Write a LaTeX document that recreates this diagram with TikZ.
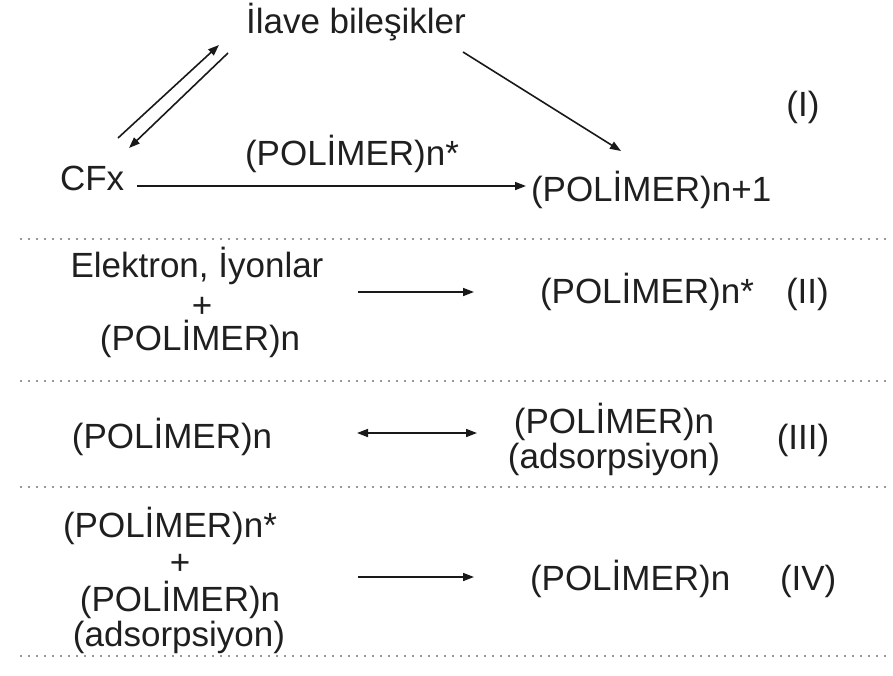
\documentclass[tikz,border=0pt]{standalone}
\usepackage{fontspec}
\setmainfont{Liberation Sans}
\usetikzlibrary{arrows.meta}
\begin{document}
\begin{tikzpicture}[x=1pt,y=-1pt,
  txt/.style={inner sep=0pt,outer sep=0pt,anchor=base,text=black!88,font=\fontsize{35}{40}\selectfont},
  txtl/.style={txt,anchor=base west},
  tip/.tip={Triangle[length=11pt,width=8pt]},
  arr/.style={line width=1.6pt,black!90,-tip},
  darr/.style={line width=1.6pt,black!90,tip-tip},
  sep/.style={gray!80,line width=1.6pt,dash pattern=on 1.6pt off 6.4pt}]
\useasboundingbox (0,0) rectangle (893,675);

% ---- reaction (I)
\node[txt]  (ilave) at (356,33)  {İlave bileşikler};
\node[txtl] (cfx)   at (60,190)  {CFx};
\node[txt]  (lab1)  at (352,165) {(POLİMER)n*};
\node[txtl] (pn1)   at (531,201) {(POLİMER)n+1};
\node[txt]  (r1)    at (803,116) {(I)};
\coordinate (c1a) at (137,186);
\coordinate (c1b) at (526,186);
\draw[arr] (c1a) -- (c1b);
\coordinate (u1) at (118,138);
\coordinate (u2) at (219,45);
\coordinate (d1) at (228,53);
\coordinate (d2) at (129,148);
\draw[arr] (u1) -- (u2);
\draw[arr] (d1) -- (d2);
\coordinate (s1) at (463,52);
\coordinate (s2) at (621,151);
\draw[arr] (s1) -- (s2);

\coordinate (l1a) at (20,239);  \coordinate (l1b) at (890,239);
\draw[sep] (l1a) -- (l1b);

% ---- reaction (II)
\node[txt]  (el)   at (197,277) {Elektron, İyonlar};
\node[txt]  (pl2)  at (202,317) {+};
\node[txt]  (p2)   at (200,350) {(POLİMER)n};
\node[txtl] (ps2)  at (540,303) {(POLİMER)n*};
\node[txtl] (r2)   at (786,303) {(II)};
\coordinate (a2a) at (358,292);
\coordinate (a2b) at (474,292);
\draw[arr] (a2a) -- (a2b);

\coordinate (l2a) at (20,381);  \coordinate (l2b) at (890,381);
\draw[sep] (l2a) -- (l2b);

% ---- reaction (III)
\node[txt]  (p3)   at (172,448) {(POLİMER)n};
\node[txt]  (p3r)  at (614,433) {(POLİMER)n};
\node[txt]  (ad3)  at (614,468) {(adsorpsiyon)};
\node[txt]  (r3)   at (803,449) {(III)};
\coordinate (a3a) at (357,433);
\coordinate (a3b) at (477,433);
\draw[darr] (a3a) -- (a3b);

\coordinate (l3a) at (20,487);  \coordinate (l3b) at (890,487);
\draw[sep] (l3a) -- (l3b);

% ---- reaction (IV)
\node[txt]  (ps4)  at (170,537) {(POLİMER)n*};
\node[txt]  (pl4)  at (180,574) {+};
\node[txt]  (p4)   at (180,611) {(POLİMER)n};
\node[txt]  (ad4)  at (179,646) {(adsorpsiyon)};
\node[txtl] (p4r)  at (530,590) {(POLİMER)n};
\node[txtl] (r4)   at (780,590) {(IV)};
\coordinate (a4a) at (358,577);
\coordinate (a4b) at (474,577);
\draw[arr] (a4a) -- (a4b);

\coordinate (l4a) at (20,656);  \coordinate (l4b) at (890,656);
\draw[sep] (l4a) -- (l4b);
\end{tikzpicture}
\end{document}
